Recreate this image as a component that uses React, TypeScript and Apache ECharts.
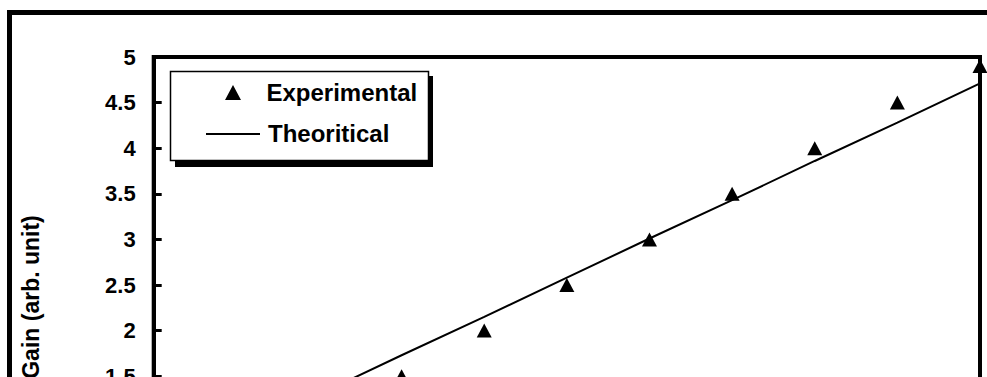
import React, { useEffect, useRef } from "react";
import * as echarts from "echarts";

// Gain versus x, measured points and the theoretical fit
const xValues = [1, 2, 3, 4, 5, 6, 7, 8, 9, 10];
const experimental = [0.5, 1.0, 1.5, 2.0, 2.5, 3.0, 3.5, 4.0, 4.5, 4.9];
const theoryX = [0, 1, 2, 3, 4, 5, 6, 7, 8, 9, 10];
const theoretical = [0.45, 0.87, 1.3, 1.73, 2.15, 2.58, 3.01, 3.43, 3.86, 4.28, 4.71];

const yAxisTitle = "Gain (arb. unit)";
const legendNames = ["Experimental", "Theoritical"];

const FONT = "'Liberation Sans', Arial, Helvetica, sans-serif";

export default function App() {
  const ref = useRef<HTMLDivElement>(null);

  useEffect(() => {
    if (!ref.current) return;
    const chart = echarts.init(ref.current, undefined, { renderer: "svg" });

    chart.setOption({
      animation: false,
      backgroundColor: "#ffffff",
      grid: {
        left: 153.7,
        top: 57,
        width: 826.3,
        height: 456,
        show: true,
        borderColor: "#000",
        borderWidth: 4,
        backgroundColor: "transparent",
      },
      xAxis: {
        type: "value",
        min: 0,
        max: 10,
        interval: 1,
        axisLine: { show: true, lineStyle: { color: "#000", width: 4 } },
        axisTick: { show: false },
        axisLabel: { show: false },
        splitLine: { show: false },
      },
      yAxis: {
        type: "value",
        min: 0,
        max: 5,
        interval: 0.5,
        axisLine: { show: true, lineStyle: { color: "#000", width: 4 } },
        axisTick: { show: true, inside: true, length: 8, lineStyle: { color: "#000", width: 3 } },
        axisLabel: {
          color: "#000",
          fontSize: 22,
          fontWeight: "bold",
          fontFamily: FONT,
          margin: 18,
        },
        splitLine: { show: false },
      },
      graphic: [
        // outer chart frame
        {
          type: "rect",
          shape: { x: 9.5, y: 12.5, width: 985, height: 600 },
          style: { fill: "none", stroke: "#000", lineWidth: 5 },
          silent: true,
          z: 0,
        },
        {
          type: "text",
          x: 31,
          y: 297,
          rotation: Math.PI / 2,
          style: {
            text: yAxisTitle,
            fill: "#000",
            font: `bold 23px ${FONT}`,
            align: "center",
            verticalAlign: "middle",
          },
        },
        // legend box with drop shadow
        {
          type: "rect",
          shape: { x: 175, y: 76, width: 258, height: 91 },
          style: { fill: "#000" },
          z: 10,
        },
        {
          type: "rect",
          shape: { x: 170.5, y: 71.5, width: 258, height: 89 },
          style: { fill: "#fff", stroke: "#000", lineWidth: 1.5 },
          z: 11,
        },
        {
          type: "polygon",
          shape: { points: [[225, 100], [241, 100], [233, 85]] },
          style: { fill: "#000" },
          z: 12,
        },
        {
          type: "text",
          x: 266.5,
          y: 92,
          style: {
            text: legendNames[0],
            fill: "#000",
            font: `bold 24px ${FONT}`,
            align: "left",
            verticalAlign: "middle",
          },
          z: 12,
        },
        {
          type: "line",
          shape: { x1: 206, y1: 134, x2: 260, y2: 134 },
          style: { stroke: "#000", lineWidth: 2 },
          z: 12,
        },
        {
          type: "text",
          x: 268,
          y: 133,
          style: {
            text: legendNames[1],
            fill: "#000",
            font: `bold 24px ${FONT}`,
            align: "left",
            verticalAlign: "middle",
          },
          z: 12,
        },
      ],
      series: [
        {
          name: legendNames[1],
          type: "line",
          data: theoryX.map((x, i) => [x, theoretical[i]]),
          showSymbol: false,
          lineStyle: { color: "#000", width: 2 },
          z: 2,
        },
        {
          name: legendNames[0],
          type: "scatter",
          data: xValues.map((x, i) => [x, experimental[i]]),
          symbol: "triangle",
          symbolSize: [15, 14],
          itemStyle: { color: "#000", opacity: 1 },
          clip: false,
          z: 3,
        },
      ],
    });

    return () => chart.dispose();
  }, []);

  return (
    <div
      style={{
        position: "fixed",
        left: 0,
        top: 0,
        width: 987,
        height: 377,
        overflow: "hidden",
        background: "#fff",
      }}
    >
      <div ref={ref} style={{ width: 1000, height: 620 }} />
    </div>
  );
}
